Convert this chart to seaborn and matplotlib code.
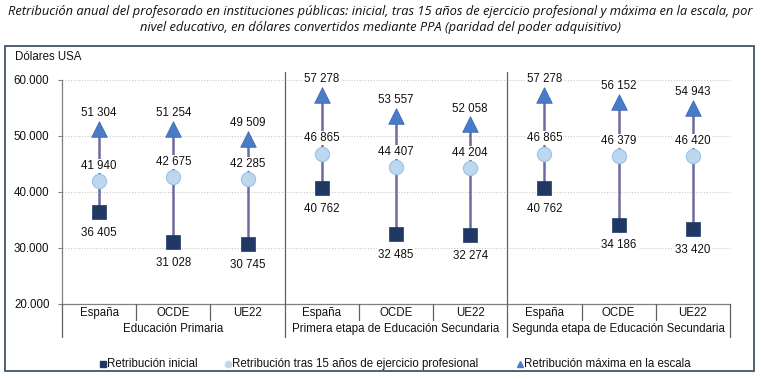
import matplotlib
matplotlib.use("Agg")
import matplotlib.pyplot as plt
from matplotlib.lines import Line2D
from matplotlib.patches import Rectangle
import seaborn as sns
import pandas as pd

# ---------------- data ----------------
paises = ["España", "OCDE", "UE22"]
grupos = ["Educación Primaria",
          "Primera etapa de Educación Secundaria",
          "Segunda etapa de Educación Secundaria"]
inicial = [36405, 31028, 30745, 40762, 32485, 32274, 40762, 34186, 33420]
quince = [41940, 42675, 42285, 46865, 44407, 44204, 46865, 46379, 46420]
maxima = [51304, 51254, 49509, 57278, 53557, 52058, 57278, 56152, 54943]
yticks = [20000, 30000, 40000, 50000, 60000]
series = ["Retribución inicial",
          "Retribución tras 15 años de ejercicio profesional",
          "Retribución máxima en la escala"]
titulo = ("Retribución anual del profesorado en instituciones públicas: inicial, tras 15 años de ejercicio profesional y máxima en la escala, por\n"
          "nivel educativo, en dólares convertidos mediante PPA (paridad del poder adquisitivo)")

# ---------------- style ----------------
sns.set_theme(style="white")
plt.rcParams["font.family"] = ["Liberation Sans", "DejaVu Sans"]

W, H = 761, 382
fig = plt.figure(figsize=(W / 100, H / 100), dpi=100)

def fx(px):
    return px / W

def fy(py):
    return 1 - py / H

x0, x1, ytop, ybot = 62, 730, 80, 304
ax = fig.add_axes([fx(x0), fy(ybot), fx(x1) - fx(x0), fy(ytop) - fy(ybot)])

n = len(inicial)
pos = list(range(n))
cat_labels = paises * 3

rows = []
for i in range(n):
    rows.append({"pos": i, "valor": inicial[i], "serie": series[0]})
    rows.append({"pos": i, "valor": quince[i], "serie": series[1]})
    rows.append({"pos": i, "valor": maxima[i], "serie": series[2]})
df = pd.DataFrame(rows)

col_ini = "#1F3864"
col_15 = "#BDD7EE"
col_max = "#4A7BC8"
col_line = "#6F6B9E"

# vertical high-low lines
ax.vlines(pos, inicial, maxima, color=col_line, lw=1.8, zorder=2)

sns.scatterplot(data=df[df.serie == series[0]], x="pos", y="valor", marker="s",
                s=100, color=col_ini, edgecolor=col_ini, linewidth=0.5, ax=ax,
                zorder=3, legend=False)
sns.scatterplot(data=df[df.serie == series[1]], x="pos", y="valor", marker="o",
                s=105, color=col_15, edgecolor="#9DC3E6", linewidth=0.8, ax=ax,
                zorder=3, legend=False)
sns.scatterplot(data=df[df.serie == series[2]], x="pos", y="valor", marker="^",
                s=125, color=col_max, edgecolor="#3E6AB5", linewidth=0.6, ax=ax,
                zorder=3, legend=False)

def fmt(v):
    return f"{v:,}".replace(",", " ")

bb = dict(boxstyle="square,pad=0.1", fc="white", ec="none")
fs = 8.3
for i in range(n):
    ax.annotate(fmt(maxima[i]), (i, maxima[i]), xytext=(0, 11.5), textcoords="offset points",
                ha="center", va="center", fontsize=fs, color="#111111", bbox=bb, zorder=5)
    ax.annotate(fmt(quince[i]), (i, quince[i]), xytext=(0, 11), textcoords="offset points",
                ha="center", va="center", fontsize=fs, color="#111111", bbox=bb, zorder=5)
    ax.annotate(fmt(inicial[i]), (i, inicial[i]), xytext=(0, -15), textcoords="offset points",
                ha="center", va="center", fontsize=fs, color="#111111", bbox=bb, zorder=5)

ax.set_xlim(-0.5, n - 0.5)
ax.set_ylim(20000, 60000)
ax.set_yticks(yticks)
ax.set_yticklabels([f"{v:,}".replace(",", ".") for v in yticks], fontsize=fs, color="#111111")
ax.tick_params(axis="y", length=3, width=0.8, color="#808080", pad=6, left=True)
ax.set_xticks([])
ax.set_xlabel("")
ax.set_ylabel("")
for g in yticks[1:]:
    ax.axhline(g, color="#C8C8C8", lw=0.8, ls=(0, (1, 1.5)), zorder=0)
for s in ["top", "right"]:
    ax.spines[s].set_visible(False)
for s in ["left", "bottom"]:
    ax.spines[s].set_color("#808080")
    ax.spines[s].set_linewidth(0.9)

# category labels and separators (figure coords)
catw = (x1 - x0) / n
sep_col = "#606060"
for i in range(n):
    cx = x0 + catw * (i + 0.5)
    fig.text(fx(cx), fy(313), cat_labels[i], ha="center", va="center", fontsize=fs, color="#111111")
for k in range(n + 1):
    bx = x0 + catw * k
    if k % 3 == 0:
        ytop_line = 72 if k in (3, 6) else ybot
        fig.add_artist(Line2D([fx(bx), fx(bx)], [fy(ytop_line), fy(337)], color=sep_col, lw=0.9))
    else:
        fig.add_artist(Line2D([fx(bx), fx(bx)], [fy(ybot), fy(320)], color=sep_col, lw=0.9))
for g in range(3):
    cx = x0 + catw * (3 * g + 1.5)
    fig.text(fx(cx), fy(329), grupos[g], ha="center", va="center", fontsize=fs, color="#111111")

fig.text(fx(15), fy(57), "Dólares USA", ha="left", va="center", fontsize=fs, color="#111111")

# legend (manual)
leg = [(103, "s", col_ini, col_ini, 4.0, series[0]),
       (228, "o", col_15, col_15, 4.5, series[1]),
       (520, "^", col_max, col_max, 4.5, series[2])]
for lx, m, fc, ec, ms, lab in leg:
    fig.add_artist(Line2D([fx(lx)], [fy(364)], marker=m, ms=ms, mfc=fc, mec=ec, ls="none"))
    fig.text(fx(lx + 4), fy(364), lab, ha="left", va="center", fontsize=fs, color="#111111")

# outer frame
fig.add_artist(Rectangle((fx(5), fy(371)), fx(754) - fx(5), fy(46) - fy(371),
                         transform=fig.transFigure, fill=False, ec="#44546A", lw=1.3))

# title
fig.text(0.5, fy(19), titulo, ha="center", va="center", fontsize=9.3, style="italic",
         family=["Open Sans", "DejaVu Sans"], color="#111111", linespacing=1.3)

fig.savefig("out.png", dpi=100)
